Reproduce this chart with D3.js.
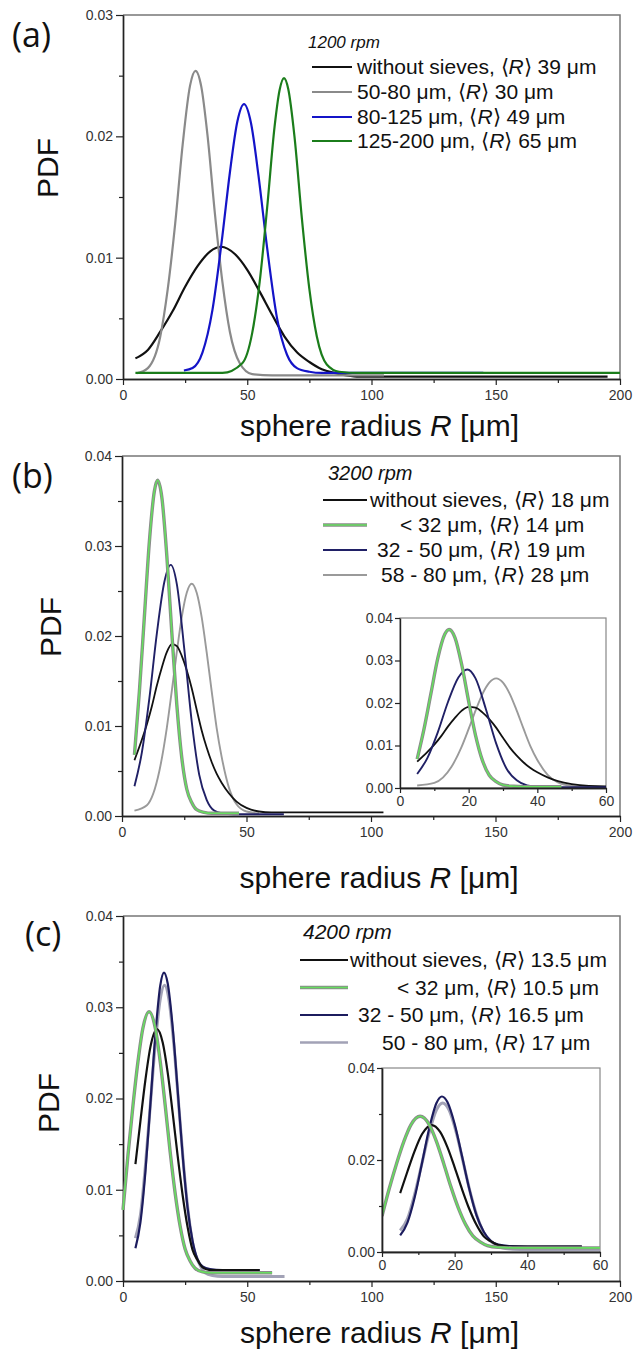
<!DOCTYPE html>
<html lang="en">
<head>
<meta charset="UTF-8">
<title>PDF of sphere radius</title>
<script src="https://cdn.jsdelivr.net/npm/d3@7"></script>
<style>
  body { margin: 0; background: #fff; }
</style>
</head>
<body>
<div id="chart"></div>
<script>

// ---------- data: [R in um, PDF] ----------

// (a) 1200 rpm
const aRpm = "1200 rpm";
const aSieves = ["without sieves,", "50-80 μm,", "80-125 μm,", "125-200 μm,"];
const aMean = ["39", "30", "49", "65"];
const aNoSieve = [[5,.0017],[10,.0024],[15,.0039],[20,.0056],[25,.0076],[30,.0093],[35,.0105],[39.5,.0109],[45,.0103],[50,.0090],[55,.0072],[60,.0053],[65,.0035],[70,.0022],[75,.0014],[80,.0008],[85,.0005],[90,.0003],[95,.0002],[195,.0002]];
const a50_80 = [[5.5,.00047],[10,.0009],[15,.0035],[18,.0074],[21,.0128],[24,.0193],[27,.0242],[29.2,.0254],[31.5,.0241],[34,.0201],[37,.0136],[40,.0080],[43,.0039],[47,.0013],[52,.0004],[60,.0003],[105,.0003]];
const a80_125 = [[24.5,.0007],[28,.0009],[32,.0022],[36,.0057],[40,.0118],[43,.0170],[46,.0212],[48.7,.02265],[51.5,.0211],[54.5,.0168],[58,.0108],[62,.0050],[66,.0020],[70,.0009],[75,.0006],[80,.0005],[145,.0005]];
const a125_200 = [[5,.0005],[40,.0005],[48,.0013],[52,.0038],[55,.0080],[58,.0141],[61,.0208],[63,.0238],[64.8,.0248],[66.5,.0239],[69,.0200],[72,.0132],[75,.0074],[78,.0035],[82,.0012],[87,.0006],[95,.0005],[200,.0005]];

// (b) 3200 rpm
const bRpm = "3200 rpm";
const bSieves = ["without sieves,", "< 32 μm,", "32 - 50 μm,", "58 - 80 μm,"];
const bMean = ["18", "14", "19", "28"];
const bNoSieve = [[5,.0062],[8,.0085],[10,.0102],[12,.0122],[14,.0145],[16,.0165],[18,.0182],[20,.0191],[22,.0189],[24,.0178],[26,.0162],[28,.0142],[30,.0118],[32,.0095],[34,.0076],[36,.0060],[38,.0047],[40,.0037],[43,.0025],[46,.0016],[50,.0009],[55,.0005],[60,.0004],[105,.0004]];
const bBelow32 = [[5,.0068],[7,.0139],[9,.0222],[11,.0305],[13,.0361],[14.3,.0373],[16,.0354],[18,.0289],[20,.0204],[22,.0124],[24,.0065],[26,.0030],[28,.0015],[30,.0007],[33,.0004],[36,.0003],[47,.0003]];
const b32_50 = [[5,.0033],[8,.0071],[11,.0131],[14,.0203],[17,.0260],[19.6,.0279],[22,.0258],[25,.0186],[28,.0105],[31,.0046],[34,.0018],[37,.0006],[40,.0003],[45,.0002],[65,.0002]];
const b58_80 = [[5,.0006],[10,.0012],[15,.0050],[18,.0098],[20,.0139],[22,.0182],[24,.0221],[26,.0248],[28,.0258],[30,.0248],[32,.0221],[34,.0182],[36,.0139],[38,.0098],[40,.0066],[43,.0031],[46,.0013],[50,.0005],[55,.0003]];

// (c) 4200 rpm
const cRpm = "4200 rpm";
const cSieves = ["without sieves,", "< 32 μm,", "32 - 50 μm,", "50 - 80 μm,"];
const cMean = ["13.5", "10.5", "16.5", "17"];
const cNoSieve = [[5,.0128],[7,.0175],[9,.0220],[11,.0256],[13.7,.0276],[16,.0261],[18,.0228],[20,.0184],[22,.0137],[24,.0094],[26,.0059],[28,.0034],[30,.0023],[32,.0015],[35,.0012],[55,.0012]];
const cBelow32 = [[0,.0078],[2,.0138],[4,.0192],[6,.0240],[8,.0277],[10.5,.0295],[13,.0277],[15,.0240],[17,.0192],[19,.0141],[21,.0096],[23,.0060],[25,.0035],[27,.0022],[29,.0014],[32,.0010],[36,.0009],[60,.0009]];
const c32_50 = [[5,.0036],[7,.0064],[9,.0119],[11,.0193],[13,.0269],[15,.0324],[16.5,.0338],[18,.0326],[20,.0278],[22,.0209],[24,.0138],[26,.0080],[28,.0044],[30,.0024],[32,.0016],[35,.0013],[40,.0012],[55,.0012]];
const c50_80 = [[5,.0047],[7,.0072],[9,.0126],[11,.0193],[13,.0260],[15,.0309],[16.7,.0324],[18.5,.0308],[20.5,.0258],[22.5,.0190],[24.5,.0123],[26.5,.0070],[28.5,.0035],[30.5,.0020],[33,.0009],[36,.0006],[40,.0005],[65,.0005]];

// ---------- layout ----------
const W = 635, H = 1356;
const sans = "'Liberation Sans', Arial, sans-serif";
const labelFont = "'Open Sans', 'Noto Sans', sans-serif";

const svg = d3.select("#chart").append("svg")
    .attr("width", W)
    .attr("height", H);

const black = {color: "#111", width: 2.2};
const greenHalo = {color: "#66dd5f", width: 1.6, halo: "#8a8a8a", haloWidth: 3.4};

const panels = [
    {
        tag: "(a)", tagX: 12, tagY: 47,
        rpm: aRpm, sieves: aSieves, means: aMean,
        series: [aNoSieve, a50_80, a80_125, a125_200],
        styles: [black, {color: "#8a8a8a", width: 2.2}, {color: "#1414c8", width: 2.2}, {color: "#1b7d1b", width: 2.2}],
        order: [0, 1, 2, 3],
        left: 123, right: 620, top: 15, bottom: 379,
        yMax: 0.03, yTicks: [0, 0.01, 0.02, 0.03], yMinor: [0.005, 0.015, 0.025],
        pdfX: 47, pdfY: 168, titleY: 436,
        legend: {titleX: 308, titleY: 48, titleSize: 17, rows: [67, 92, 117, 141], lineX: [312, 352], textX: [357, 357, 357, 357]}
    },
    {
        tag: "(b)", tagX: 12, tagY: 488,
        rpm: bRpm, sieves: bSieves, means: bMean,
        series: [bNoSieve, bBelow32, b32_50, b58_80],
        styles: [{color: "#111", width: 1.8}, greenHalo, {color: "#202066", width: 1.9}, {color: "#9a9a9a", width: 1.9}],
        order: [3, 0, 2, 1],
        left: 122, right: 620, top: 456, bottom: 816,
        yMax: 0.04, yTicks: [0, 0.01, 0.02, 0.03, 0.04], yMinor: [0.005, 0.015, 0.025, 0.035],
        pdfX: 50, pdfY: 627, titleY: 888,
        legend: {titleX: 328, titleY: 480, titleSize: 20, rows: [500, 525, 550, 575], lineX: [323, 367], textX: [370, 400, 377, 381]},
        inset: {left: 400, right: 606, top: 618, bottom: 788,
                yTicks: [0, 0.01, 0.02, 0.03, 0.04], yMinor: [], xTicks: [0, 20, 40, 60], xMinor: [10, 30, 50]}
    },
    {
        tag: "(c)", tagX: 25, tagY: 946,
        rpm: cRpm, sieves: cSieves, means: cMean,
        series: [cNoSieve, cBelow32, c32_50, c50_80],
        styles: [{color: "#111", width: 2.2}, greenHalo, {color: "#1c1c5e", width: 2.2}, {color: "#a2a2b6", width: 3}],
        order: [3, 2, 0, 1],
        left: 123, right: 620, top: 916, bottom: 1281,
        yMax: 0.04, yTicks: [0, 0.01, 0.02, 0.03, 0.04], yMinor: [0.005, 0.015, 0.025, 0.035],
        pdfX: 48, pdfY: 1103, titleY: 1343,
        legend: {titleX: 303, titleY: 939, titleSize: 21, rows: [960, 987.5, 1015, 1042.5], lineX: [300, 348], textX: [350, 397, 358, 382]},
        inset: {left: 382, right: 600, top: 1068, bottom: 1252,
                yTicks: [0, 0.02, 0.04], yMinor: [0.01, 0.03], xTicks: [0, 20, 40, 60], xMinor: [10, 30, 50]}
    }
];

function styleAxis(sel, size) {
    sel.select(".domain").attr("stroke", "#222").attr("stroke-width", 1.4);
    sel.selectAll(".tick line").attr("stroke", "#222").attr("stroke-width", 1.2);
    sel.selectAll("text")
        .attr("font-family", sans)
        .attr("font-size", size || 14)
        .attr("fill", "#333");
}

function drawCurves(g, p, x, y, clipId) {
    const line = d3.line()
        .x(d => x(d[0]))
        .y(d => y(d[1]))
        .curve(d3.curveMonotoneX);
    const cg = g.append("g");
    if (clipId) cg.attr("clip-path", "url(#" + clipId + ")");
    p.order.forEach(i => {
        const s = p.styles[i];
        if (s.halo) {
            cg.append("path").datum(p.series[i])
                .attr("d", line)
                .attr("fill", "none")
                .attr("stroke", s.halo)
                .attr("stroke-width", s.haloWidth)
                .attr("stroke-linejoin", "round");
        }
        cg.append("path").datum(p.series[i])
            .attr("d", line)
            .attr("fill", "none")
            .attr("stroke", s.color)
            .attr("stroke-width", s.width)
            .attr("stroke-linejoin", "round");
    });
}

function drawPanel(p, k) {
    const g = svg.append("g");

    const x = d3.scaleLinear().domain([0, 200]).range([p.left, p.right]);
    const y = d3.scaleLinear().domain([0, p.yMax]).range([p.bottom, p.top]);

    // top and right frame
    g.append("path")
        .attr("d", `M${p.left},${p.top}H${p.right}V${p.bottom}`)
        .attr("fill", "none")
        .attr("stroke", "#777")
        .attr("stroke-width", 1.5);

    // y axis
    g.append("g")
        .attr("transform", `translate(${p.left},0)`)
        .call(d3.axisLeft(y).tickValues(p.yMinor).tickFormat("").tickSizeInner(4).tickSizeOuter(0))
        .call(styleAxis);
    g.append("g")
        .attr("transform", `translate(${p.left},0)`)
        .call(d3.axisLeft(y).tickValues(p.yTicks).tickFormat(d3.format(".2f")).tickSizeInner(7).tickSizeOuter(0).tickPadding(3))
        .call(styleAxis);

    // x axis
    g.append("g")
        .attr("transform", `translate(0,${p.bottom})`)
        .call(d3.axisBottom(x).tickValues([25, 75, 125, 175]).tickFormat("").tickSizeInner(4).tickSizeOuter(0))
        .call(styleAxis);
    g.append("g")
        .attr("transform", `translate(0,${p.bottom})`)
        .call(d3.axisBottom(x).tickValues([0, 50, 100, 150, 200]).tickSizeInner(6).tickSizeOuter(0).tickPadding(5))
        .call(styleAxis);

    drawCurves(g, p, x, y, null);

    // inset
    if (p.inset) {
        const q = p.inset;
        const xi = d3.scaleLinear().domain([0, 60]).range([q.left, q.right]);
        const yi = d3.scaleLinear().domain([0, 0.04]).range([q.bottom, q.top]);
        const clipId = "clip" + k;
        svg.append("clipPath").attr("id", clipId)
            .append("rect")
            .attr("x", q.left).attr("y", q.top)
            .attr("width", q.right - q.left).attr("height", q.bottom - q.top);

        g.append("rect")
            .attr("x", q.left).attr("y", q.top)
            .attr("width", q.right - q.left).attr("height", q.bottom - q.top)
            .attr("fill", "#fff")
            .attr("stroke", "#888")
            .attr("stroke-width", 1.2);

        drawCurves(g, p, xi, yi, clipId);

        if (q.yMinor.length) {
            g.append("g")
                .attr("transform", `translate(${q.left},0)`)
                .call(d3.axisLeft(yi).tickValues(q.yMinor).tickFormat("").tickSizeInner(3).tickSizeOuter(0))
                .call(styleAxis);
        }
        g.append("g")
            .attr("transform", `translate(${q.left},0)`)
            .call(d3.axisLeft(yi).tickValues(q.yTicks).tickFormat(d3.format(".2f")).tickSizeInner(5).tickSizeOuter(0).tickPadding(2))
            .call(styleAxis);
        g.append("g")
            .attr("transform", `translate(0,${q.bottom})`)
            .call(d3.axisBottom(xi).tickValues(q.xMinor).tickFormat("").tickSizeInner(3).tickSizeOuter(0))
            .call(styleAxis);
        g.append("g")
            .attr("transform", `translate(0,${q.bottom})`)
            .call(d3.axisBottom(xi).tickValues(q.xTicks).tickFormat(d3.format("d")).tickSizeInner(5).tickSizeOuter(0).tickPadding(3))
            .call(styleAxis);
    }

    // legend
    const L = p.legend;
    g.append("text")
        .attr("x", L.titleX).attr("y", L.titleY)
        .attr("font-family", sans)
        .attr("font-size", L.titleSize)
        .attr("font-style", "italic")
        .attr("fill", "#111")
        .text(p.rpm);

    p.sieves.forEach((name, i) => {
        const s = p.styles[i];
        const ry = L.rows[i];
        if (s.halo) {
            g.append("line")
                .attr("x1", L.lineX[0]).attr("x2", L.lineX[1])
                .attr("y1", ry).attr("y2", ry)
                .attr("stroke", s.halo).attr("stroke-width", s.haloWidth);
        }
        g.append("line")
            .attr("x1", L.lineX[0]).attr("x2", L.lineX[1])
            .attr("y1", ry).attr("y2", ry)
            .attr("stroke", s.color).attr("stroke-width", Math.min(s.width, 2.4));

        const t = g.append("text")
            .attr("x", L.textX[i]).attr("y", ry + 7)
            .attr("font-family", sans)
            .attr("font-size", 21)
            .attr("fill", "#111");
        t.append("tspan").text(name + " \u27E8");
        t.append("tspan").attr("font-style", "italic").text("R");
        t.append("tspan").text("\u27E9 " + p.means[i] + " μm");
    });

    // axis titles
    g.append("text")
        .attr("transform", `translate(${p.pdfX},${p.pdfY}) rotate(-90)`)
        .attr("text-anchor", "middle")
        .attr("dominant-baseline", "central")
        .attr("font-family", sans)
        .attr("font-size", 30)
        .attr("fill", "#111")
        .text("PDF");

    const xt = g.append("text")
        .attr("x", (p.left + p.right) / 2 + 8).attr("y", p.titleY)
        .attr("text-anchor", "middle")
        .attr("font-family", sans)
        .attr("font-size", 30)
        .attr("fill", "#111");
    xt.append("tspan").text("sphere radius ");
    xt.append("tspan").attr("font-style", "italic").text("R");
    xt.append("tspan").text(" [μm]");

    // panel tag
    g.append("text")
        .attr("x", p.tagX).attr("y", p.tagY)
        .attr("font-family", labelFont)
        .attr("font-size", 34)
        .attr("fill", "#111")
        .text(p.tag);
}

panels.forEach(drawPanel);

</script>
</body>
</html>
